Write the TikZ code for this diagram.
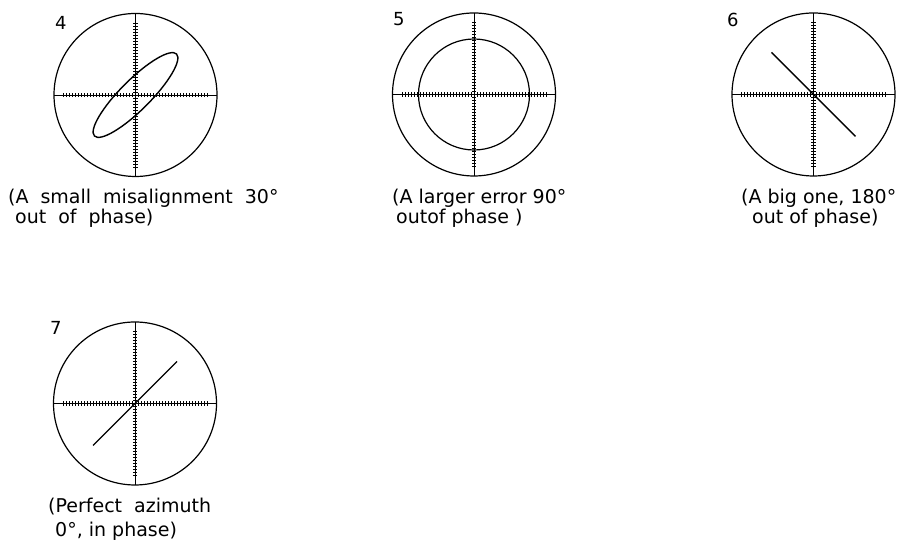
\documentclass[tikz,border=0pt]{standalone}
\usepackage{fontspec}
\setmainfont{DejaVu Sans}
\newcommand\widegap{\spaceskip 12pt\relax}
\begin{document}
\begin{tikzpicture}[x=1pt,y=1pt,
rim/.style={line width=1.2pt},
axis/.style={line width=0.6pt},
tick/.style={line width=0.45pt},
trace/.style={line width=1.4pt},
num/.style={anchor=base west,inner sep=0pt,font=\fontsize{18}{18}\selectfont},
legend/.style={anchor=base west,inner sep=0pt,font=\fontsize{19}{19}\selectfont},
wide/.style={font=\fontsize{19}{19}\selectfont\widegap}]
\useasboundingbox(0,0)rectangle(898,548);
\foreach \cx/\cy in {135.5/453,474/453.5,813.5/453.5,135/144.5}{
\draw[rim](\cx,\cy)circle(81.5);
\draw[axis](\cx-81.5,\cy)--(\cx+81.5,\cy)(\cx,\cy-81.5)--(\cx,\cy+81.5);
\foreach \t in {-72,-69,...,72}
\draw[tick](\cx+\t,\cy-2.2)--(\cx+\t,\cy+2.2)(\cx-2.2,\cy+\t)--(\cx+2.2,\cy+\t);
}
\draw[trace,rotate around={45:(135.5,453)}](135.5,453)ellipse(58 and 15);
\draw[rim](474,453.5)circle(55.5);
\draw[trace](771.5,495.5)--(855.5,411.5);
\draw[trace](93,102.5)--(177,186.5);
\node[num](n4)at(55,518){4};
\node[num](n5)at(393,522){5};
\node[num](n6)at(727,521){6};
\node[num](n7)at(50,213){7};
\node[legend,wide](t4a)at(8,344){(A small misalignment 30°};
\node[legend,wide](t4b)at(15,324){out of phase)};
\node[legend](t5a)at(392,344){(A larger error 90°};
\node[legend](t5b)at(396,324){outof phase )};
\node[legend](t6a)at(741,344){(A big one, 180°};
\node[legend](t6b)at(752,324){out of phase)};
\node[legend,wide](t7a)at(48,35){(Perfect azimuth};
\node[legend](t7b)at(55,11){0°, in phase)};
\end{tikzpicture}
\end{document}
